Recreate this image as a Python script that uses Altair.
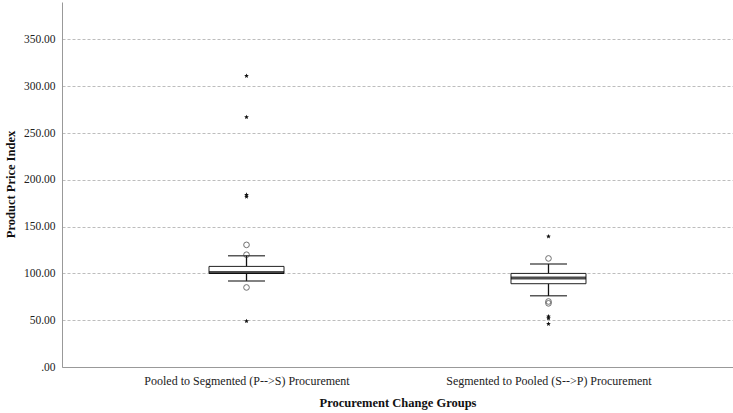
import math
import altair as alt
import pandas as pd

# Box-plot summaries for the two procurement change groups
groups = [
    "Pooled to Segmented (P-->S) Procurement",
    "Segmented to Pooled (S-->P) Procurement",
]
q1 = [100.0, 89.0]
median = [101.0, 95.0]
q3 = [107.5, 100.0]
whisker_low = [92.0, 76.0]
whisker_high = [119.0, 110.0]

# Outliers (circles) and extreme values (stars)
outlier_group = [0, 0, 0, 1, 1, 1]
outlier_value = [130.5, 120.0, 85.0, 116.0, 70.0, 68.0]
extreme_group = [0, 0, 0, 0, 0, 1, 1, 1, 1]
extreme_value = [311.0, 267.0, 184.0, 182.0, 49.0, 139.5, 54.0, 52.0, 46.0]

FONT = "Liberation Serif"

# Five-pointed star symbol in the unit square used by Vega symbol paths
_pts = []
for k in range(10):
    r = 1.0 if k % 2 == 0 else 0.45
    a = math.radians(-90 + 36 * k)
    _pts.append(f"{r * math.cos(a):.3f},{r * math.sin(a):.3f}")
STAR = "M" + " L".join(_pts) + " Z"

summary = pd.DataFrame({
    "group": groups,
    "q1": q1,
    "median": median,
    "q3": q3,
    "lo": whisker_low,
    "hi": whisker_high,
})
outliers = pd.DataFrame({
    "group": [groups[i] for i in outlier_group],
    "value": outlier_value,
})
extremes = pd.DataFrame({
    "group": [groups[i] for i in extreme_group],
    "value": extreme_value,
})

x_enc = alt.X(
    "group:N",
    sort=groups,
    scale=alt.Scale(type="point", padding=0.611),
    axis=alt.Axis(
        orient="bottom",
        title="Procurement Change Groups",
        labelAngle=0,
        labelLimit=400,
        labelFont=FONT,
        labelFontSize=12,
        labelColor="#222222",
        labelPadding=8,
        titleFont=FONT,
        titleFontSize=12.5,
        titleFontWeight="bold",
        titleColor="#111111",
        titlePadding=10,
        ticks=False,
        domainColor="#999999",
        grid=False,
    ),
)
y_scale = alt.Scale(domain=[0, 390], nice=False)
y_axis = alt.Axis(
    orient="left",
    title="Product Price Index",
    values=[0, 50, 100, 150, 200, 250, 300, 350],
    labelExpr="datum.value == 0 ? '.00' : format(datum.value, '.2f')",
    labelFont=FONT,
    labelFontSize=11.5,
    labelColor="#222222",
    labelPadding=7,
    titleFont=FONT,
    titleFontSize=12.5,
    titleFontWeight="bold",
    titleColor="#111111",
    titleAngle=-90,
    titleX=-52,
    titleY=182,
    titleAlign="center",
    titleBaseline="middle",
    ticks=False,
    domainColor="#999999",
    grid=True,
    gridColor="#bdbdbd",
    gridDash=[3, 2],
    gridWidth=1,
)

base = alt.Chart(summary)

lower_whisker = base.mark_rule(color="#111111", strokeWidth=1.3).encode(
    x=x_enc,
    y=alt.Y("lo:Q", scale=y_scale, axis=y_axis),
    y2="q1:Q",
)
upper_whisker = base.mark_rule(color="#111111", strokeWidth=1.3).encode(
    x=x_enc, y=alt.Y("q3:Q"), y2="hi:Q"
)
cap_low = base.mark_tick(color="#111111", size=37, thickness=1.5).encode(
    x=x_enc, y="lo:Q"
)
cap_high = base.mark_tick(color="#111111", size=37, thickness=1.5).encode(
    x=x_enc, y="hi:Q"
)
box = base.mark_bar(
    size=75, fill="white", stroke="#222222", strokeWidth=1
).encode(x=x_enc, y="q1:Q", y2="q3:Q")
med = base.mark_tick(color="#000000", size=75, thickness=3).encode(
    x=x_enc, y="median:Q"
)

circles = alt.Chart(outliers).mark_point(
    shape="circle", filled=False, size=32, color="#333333", strokeWidth=1
).encode(x=x_enc, y="value:Q")

stars = alt.Chart(extremes).mark_point(
    shape=STAR, filled=True, size=24, color="#111111", opacity=1
).encode(x=x_enc, y="value:Q")

chart = (
    alt.layer(lower_whisker, upper_whisker, box, med, cap_low, cap_high, circles, stars)
    .properties(
        width=671,
        height=365,
        autosize=alt.AutoSizeParams(type="none"),
        padding={"left": 62, "top": 2, "right": 0, "bottom": 46},
        background="white",
    )
    .configure_view(stroke=None)
)

chart.save("out.html", embed_options={"renderer": "svg", "actions": False})
